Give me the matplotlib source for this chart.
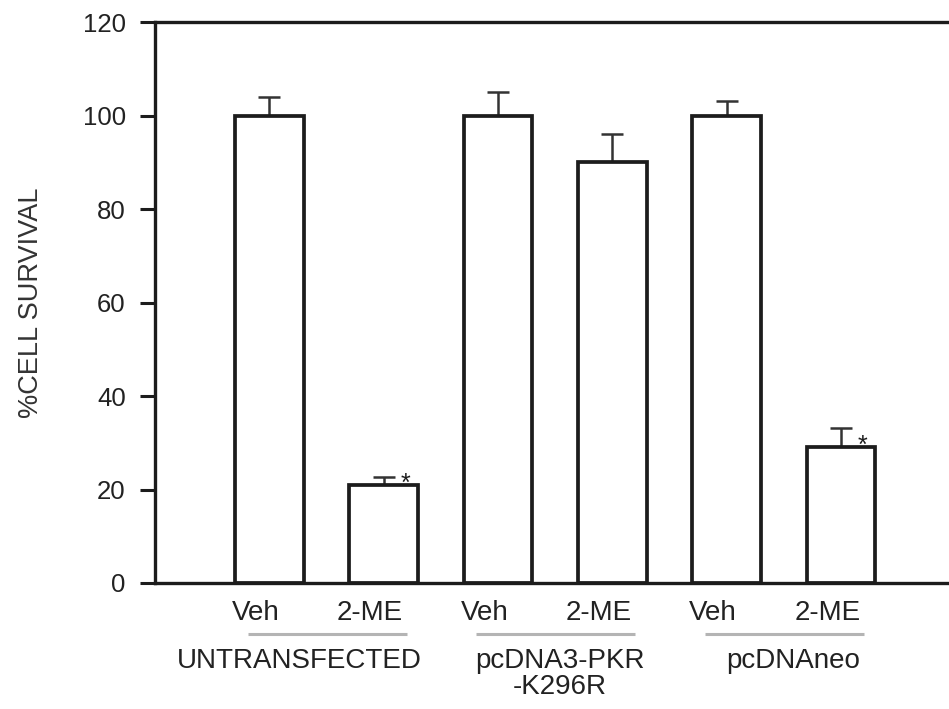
import matplotlib
matplotlib.use("Agg")
import matplotlib.pyplot as plt
import matplotlib.transforms as mtransforms

plt.rcParams["font.family"] = ["Liberation Sans", "DejaVu Sans"]

# data
TREATMENTS = ["Veh", "2-ME", "Veh", "2-ME", "Veh", "2-ME"]
SURVIVAL = [100, 21, 100, 90, 100, 29]
SEM = [4, 1.7, 5, 6, 3, 4.2]
SIGNIF = [False, True, False, False, False, True]
GROUPS = ["UNTRANSFECTED", "pcDNA3-PKR\n-K296R", "pcDNAneo"]
YTICKS = [0, 20, 40, 60, 80, 100, 120]

INK = "#1c1c1c"
TXT = "#222222"

fig = plt.figure(figsize=(9.49, 7.09), dpi=100)
ax = fig.add_axes([155 / 949, 1 - 583 / 709, 1 - 155 / 949, 561 / 709])

xs = list(range(len(SURVIVAL)))
ax.bar(xs, SURVIVAL, width=0.6, facecolor="white", edgecolor=INK,
       linewidth=2.7, zorder=2)
ax.errorbar(xs, SURVIVAL, yerr=[[0] * len(SEM), SEM], fmt="none",
            ecolor="#333333", elinewidth=1.8, capsize=8, capthick=1.8,
            zorder=1)
for x, v, s in zip(xs, SURVIVAL, SIGNIF):
    if s:
        ax.annotate("*", xy=(x + 0.19, v), xytext=(0, -4),
                    textcoords="offset points", ha="center", va="baseline",
                    fontsize=18, color=INK)

ax.set_xlim(-1, 5.944)
ax.set_ylim(0, 120)
ax.set_yticks(YTICKS)
ax.tick_params(axis="y", length=11, width=2.2, color=INK, pad=10,
               labelsize=18.5, labelcolor=TXT)
ax.set_xticks([x - 0.12 for x in xs])
ax.set_xticklabels(TREATMENTS)
ax.tick_params(axis="x", length=0, pad=12, labelsize=20, labelcolor=TXT)
for side in ["left", "bottom", "top"]:
    ax.spines[side].set_linewidth(2.4)
    ax.spines[side].set_color(INK)
ax.spines["right"].set_visible(False)

ax.set_ylabel("%CELL SURVIVAL", fontsize=19.5, color="#333333", labelpad=28)

# group underlines and names below the treatment labels
trans = mtransforms.blended_transform_factory(ax.transData, ax.transAxes)
label_dx = [-0.24, 0.04, 0.08]
for g, name in enumerate(GROUPS):
    x0 = xs[2 * g]
    ax.plot([x0 - 0.19, x0 + 1.2], [-0.091, -0.091], transform=trans,
            color="#b4b4b4", lw=2.2, clip_on=False, solid_capstyle="butt")
    ax.text(x0 + 0.5 + label_dx[g], -0.115, name, transform=trans,
            ha="center", va="top", fontsize=20, color=TXT, linespacing=1.0)

fig.savefig("out.png", dpi=100)
